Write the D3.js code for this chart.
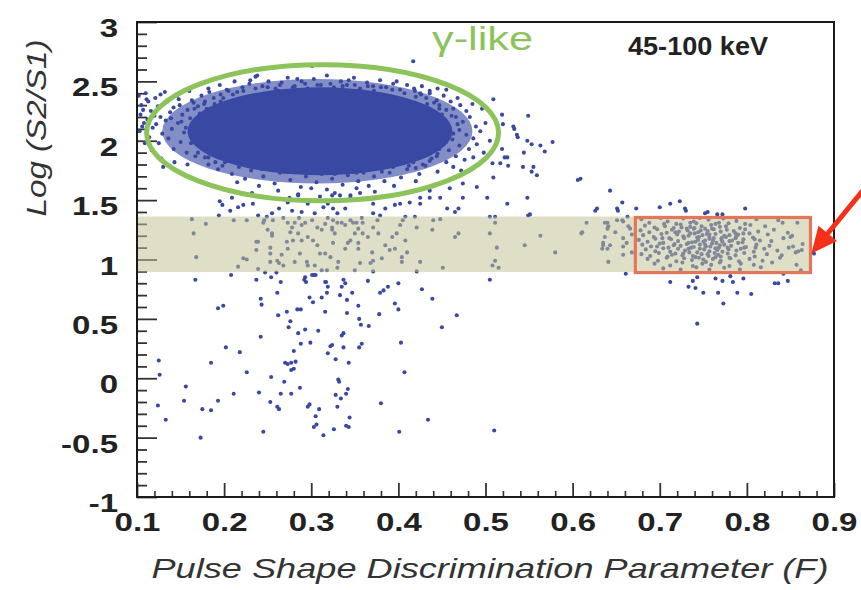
<!DOCTYPE html>
<html>
<head>
<meta charset="utf-8">
<script src="https://cdn.jsdelivr.net/npm/d3@7"></script>
<style>
  body { margin: 0; background: #fff; }
  svg { display: block; }
  text { font-family: "Liberation Sans", Arial, sans-serif; }
</style>
</head>
<body>
<div id="chart"></div>
<script>
// ---------------------------------------------- data -------------------------------------------------
const xTicks = [0.1, 0.2, 0.3, 0.4, 0.5, 0.6, 0.7, 0.8, 0.9];
const xTickLabels = ["0.1", "0.2", "0.3", "0.4", "0.5", "0.6", "0.7", "0.8", "0.9"];
const yTicks = [-1, -0.5, 0, 0.5, 1, 1.5, 2, 2.5, 3];
const yTickLabels = ["-1", "-0.5", "0", "0.5", "1", "1.5", "2", "2.5", "3"];

// dense gamma core : [centre F, centre log, half width, half height]
const gammaCore = [0.31, 2.08, 0.152, 0.37];
// fainter shell around the core, same layout
const gammaShell = [0.307, 2.08, 0.178, 0.44];

// speckled edge of the gamma population
const gammaHalo = [
  [.182,2.44],[.195,2.47],[.203,2.43],[.212,2.50],[.221,2.45],[.229,2.48],[.236,2.54],[.244,2.46],[.251,2.50],[.259,2.44],
  [.266,2.49],[.273,2.53],[.281,2.46],[.289,2.50],[.296,2.44],[.303,2.52],[.311,2.47],[.318,2.55],[.326,2.45],[.334,2.50],
  [.341,2.47],[.349,2.53],[.356,2.44],[.364,2.49],[.371,2.46],[.379,2.51],[.386,2.45],[.394,2.48],[.402,2.43],[.410,2.47],
  [.418,2.44],[.427,2.46],[.436,2.42],[.445,2.44],[.238,2.55],[.301,2.63],[.417,2.67],[.262,2.42],[.315,2.43],[.372,2.42],
  [.215,2.41],[.425,2.40],
  [.102,2.38],[.105,2.30],[.104,2.22],[.108,2.15],[.103,2.08],[.110,2.40],[.113,2.33],[.116,2.25],[.112,2.18],[.118,2.11],
  [.114,2.03],[.121,2.36],[.124,2.29],[.127,2.20],[.122,2.14],[.129,2.06],[.125,1.98],[.132,2.41],[.135,2.33],[.138,2.24],
  [.133,2.17],[.140,2.10],[.136,2.02],[.142,1.93],[.146,2.38],[.149,2.30],[.152,2.22],[.147,2.15],[.154,2.07],[.150,1.99],
  [.157,1.90],[.160,2.42],[.163,2.34],[.166,2.27],[.161,2.19],[.168,2.12],[.164,2.04],[.171,1.96],[.167,1.87],[.174,2.38],
  [.177,2.31],[.172,2.23],[.179,2.01],[.175,1.93],[.182,1.86],[.117,1.92],[.128,1.85],[.143,1.82],[.158,1.80],[.109,1.98],
  [.130,1.78],
  [.452,2.38],[.460,2.33],[.468,2.36],[.463,2.27],[.471,2.30],[.478,2.25],[.466,2.20],[.474,2.16],[.482,2.20],[.489,2.12],
  [.470,2.09],[.478,2.05],[.486,2.02],[.494,2.08],[.462,2.01],[.470,1.96],[.481,1.93],[.490,1.97],[.498,1.90],[.458,1.92],
  [.466,1.87],[.476,1.84],[.486,1.86],[.455,1.82],[.463,1.78],[.472,1.75],[.505,2.00],[.500,2.15],[.496,2.27],[.485,2.31],
  [.455,2.43],[.447,2.30],[.450,2.22],[.456,2.12],[.448,2.05],[.452,1.97],[.445,1.89],
  [.182,1.80],[.193,1.76],[.201,1.82],[.209,1.72],[.217,1.78],[.224,1.68],[.231,1.75],[.238,1.81],[.245,1.70],[.252,1.77],
  [.258,1.64],[.264,1.73],[.270,1.79],[.276,1.67],[.282,1.74],[.288,1.61],[.294,1.70],[.300,1.77],[.306,1.65],[.312,1.72],
  [.318,1.59],[.324,1.68],[.330,1.75],[.336,1.63],[.342,1.71],[.348,1.78],[.354,1.66],[.360,1.73],[.366,1.62],[.372,1.70],
  [.378,1.77],[.384,1.66],[.390,1.73],[.396,1.80],[.403,1.69],[.410,1.76],[.417,1.82],[.424,1.72],[.431,1.79],[.438,1.85],
  [.445,1.74],[.262,1.58],[.285,1.55],[.300,1.60],[.327,1.56],[.352,1.60],[.373,1.57],[.240,1.62],[.215,1.65],[.395,1.62],
  [.420,1.66],[.232,1.56],[.310,1.53],[.275,1.52],[.345,1.52],
  [.190,1.92],[.205,1.88],[.220,1.85],[.235,1.86],[.250,1.83],[.265,1.85],[.280,1.82],[.295,1.84],[.310,1.81],[.325,1.83],
  [.340,1.80],[.355,1.84],[.370,1.82],[.385,1.86],[.400,1.84],[.415,1.88],[.430,1.91],[.440,1.96],[.200,1.97],[.185,2.02],
  [.212,1.93],[.425,1.95],[.210,1.90],
  [.188,2.36],[.196,2.39],[.178,2.33],[.170,2.29],[.183,2.41],[.205,2.42],[.432,2.36],[.426,2.39],[.441,2.32],[.447,2.27],
  [.419,2.42],[.436,2.40],[.190,1.82],[.198,1.79],[.178,1.86],[.170,1.90],[.206,1.84],[.428,1.80],[.436,1.83],[.444,1.87],
  [.420,1.77],[.412,1.79],
  [.165,2.32],[.158,2.26],[.151,2.16],[.156,2.11],[.162,1.98],[.170,2.05],[.176,2.17],[.183,2.25],[.190,2.28],[.196,2.33],
  [.186,1.95],[.194,1.88],[.203,1.85],[.218,1.81],[.228,1.79],[.243,1.76],[.257,1.78],[.268,1.74],[.284,1.78],[.297,1.73],
  [.312,1.76],[.327,1.72],[.339,1.76],[.352,1.73],[.366,1.77],[.381,1.74],[.394,1.78],[.407,1.82],[.421,1.85],[.433,1.88],
  [.447,1.93],[.455,1.99],[.463,2.06],[.468,2.14],[.461,2.21],[.455,2.26],[.444,2.34],[.433,2.31],[.420,2.37],[.407,2.40],
  [.393,2.43],[.380,2.45],[.365,2.46],[.350,2.47],[.336,2.46],[.322,2.48],[.307,2.47],[.293,2.48],[.279,2.45],[.264,2.47],
  [.250,2.45],[.236,2.44],[.222,2.42],[.210,2.39],[.199,2.36],[.189,2.31],[.180,2.27],[.173,2.20],[.168,2.16],[.230,2.51],
  [.284,2.52],[.343,2.51],[.398,2.50],[.142,2.28],[.148,2.35],[.139,2.19],[.127,2.39],[.120,2.21],[.107,2.26],[.111,2.35],
  [.106,2.12]
];

// isolated events outside the two populations
const scatterPts = [
  [.125,.15],[.126,.03],[.124,-.23],[.133,-.35],[.156,-.07],[.154,-.19],[.173,-.50],[.175,-.26],[.185,-.27],[.185,.13],
  [.193,-.19],[.202,.26],[.211,-.13],[.218,.22],[.226,.05],[.240,-.12],[.245,-.45],[.253,-.20],[.254,.01],[.261,-.24],
  [.263,-.26],[.265,-.13],[.269,-.03],[.270,.13],[.273,.12],[.277,.07],[.280,.08],[.277,.13],[.282,.14],[.277,-.13],
  [.280,.23],[.287,-.08],[.288,.29],[.296,-.24],[.298,-.22],[.299,.30],[.303,-.41],[.306,-.39],[.305,-.32],[.309,-.26],
  [.314,-.48],[.319,.21],[.322,.27],[.326,-.43],[.328,-.14],[.328,.16],[.330,-.24],[.331,-.01],[.332,-.03],[.334,-.17],
  [.337,.26],[.340,-.13],[.340,-.40],[.343,-.41],[.342,-.09],[.343,.13],[.344,-.33],[.355,.26],[.358,.29],[.380,-.21],
  [.401,-.45],[.403,.30],[.407,.05],[.434,-.35],[.510,-.44],
  [.193,.59],[.199,.61],[.167,.83],[.208,.87],[.242,.67],[.243,.62],[.242,.35],[.237,.83],[.254,.85],[.261,.72],
  [.265,.81],[.262,.53],[.272,.56],[.276,.48],[.274,.43],[.285,.38],[.284,.58],[.288,.58],[.293,.41],[.308,.40],
  [.298,.68],[.302,.64],[.293,.85],[.292,.83],[.316,.81],[.319,.77],[.318,.72],[.312,.68],[.316,.56],[.301,.87],
  [.303,.87],[.305,.87],[.294,.81],[.317,.81],
  [.337,.83],[.339,.80],[.335,.77],[.365,.82],[.388,.77],[.383,.74],[.379,.72],[.400,.80],[.427,.75],[.439,.67],
  [.333,.70],[.341,.66],[.347,.72],[.354,.61],[.396,.63],[.400,.58],[.341,.55],[.378,.54],[.355,.50],[.357,.45],
  [.366,.44],[.467,.53],[.450,.43],[.337,.38],[.335,.36],[.324,.28],[.505,.83],
  // in the band, left part
  [.163,1.34],[.179,1.30],[.165,1.22],[.168,1.02],[.216,.94],[.211,1.33],[.226,1.33],[.222,1.01],[.226,1.00],[.237,1.08],
  [.239,1.15],[.239,.92],[.246,1.33],[.247,.89],[.250,1.25],[.253,1.10],[.253,1.05],[.255,1.20],[.256,1.33],[.261,.99],
  [.263,.97],[.260,.89],
  [.268,1.35],[.273,1.31],[.278,1.27],[.276,1.23],[.281,1.31],[.286,1.35],[.289,1.29],[.293,1.31],[.285,1.22],[.279,1.16],
  [.272,1.15],[.289,1.16],[.296,1.19],[.302,1.16],[.307,1.12],[.312,1.25],[.316,1.30],[.319,1.35],[.324,1.27],[.310,1.05],
  [.316,1.05],[.322,1.02],[.325,1.14],[.301,1.33],[.307,1.27],[.296,.95],[.304,.95],[.312,.91],[.318,.91],[.287,1.05],
  [.295,.98],[.281,.98],[.273,1.09],[.266,1.04],[.268,.95],[.253,.98],[.237,1.15],[.245,1.31],[.255,1.22],
  [.325,1.33],[.330,1.31],[.335,1.31],[.324,1.25],[.327,1.22],[.339,1.29],[.345,1.33],[.348,1.31],[.352,1.31],[.358,1.35],
  [.359,1.31],[.354,1.26],[.350,1.22],[.345,1.16],[.339,1.09],[.342,1.14],[.354,1.14],[.354,1.09],[.359,1.22],[.365,1.19],
  [.371,1.27],[.376,1.33],[.377,1.22],[.370,1.06],[.371,.99],[.381,1.01],[.385,1.12],[.393,1.19],[.390,1.08],[.398,1.22],
  [.396,1.09],[.402,1.29],[.405,1.33],[.408,1.16],[.410,1.06],[.404,1.02],[.404,.98],[.408,1.36],[.419,1.36],[.421,1.27],
  [.425,.98],[.421,.90],[.371,.90],[.350,.91],[.330,.93],[.331,.98],[.356,.97],[.368,.97],[.439,1.25],[.440,1.33],
  [.448,1.34],[.451,.93],[.465,1.19],[.469,1.22],[.505,1.36],[.511,1.36],[.511,1.31],[.505,1.22],[.513,1.10],[.511,.99],
  [.508,.95],[.515,.93],[.545,1.12],[.563,1.20],[.580,1.06],[.611,1.23],[.616,1.31],[.610,1.22],[.640,1.31],[.641,1.28],
  [.651,1.33],[.649,1.23],[.658,1.32],[.663,1.36],[.664,1.28],[.668,1.21],[.637,1.31],[.640,1.26],[.657,1.33],[.637,1.19],
  [.635,1.14],[.643,1.12],[.634,1.09],[.658,1.18],[.662,1.14],[.658,1.11],[.666,1.26],[.668,1.06],[.641,.98],[.658,1.04],
  [.635,1.12],[.640,1.09],
  // between blob and band
  [.195,1.49],[.198,1.46],[.207,1.41],[.216,1.44],[.222,1.46],[.233,1.47],[.194,1.37],[.209,1.52],[.239,1.37],[.249,1.36],
  [.255,1.39],[.263,1.43],[.273,1.48],[.285,1.54],[.296,1.47],[.304,1.39],[.314,1.44],[.319,1.47],[.325,1.43],[.278,1.41],
  [.289,1.40],[.324,1.54],[.333,1.54],[.345,1.54],[.356,1.56],[.371,1.47],[.385,1.43],[.396,1.46],[.402,1.47],[.413,1.48],
  [.425,1.47],[.436,1.52],[.456,1.43],[.465,1.40],[.469,1.43],[.474,1.52],[.502,1.52],[.525,1.47],[.549,1.37],[.330,1.39],
  [.339,1.43],[.371,1.39],[.379,1.37],[.425,1.52],[.436,1.58],[.448,1.52],[.459,1.60],[.474,1.64],[.490,1.61],
  // right of the blob
  [.509,2.35],[.519,2.22],[.520,2.14],[.532,2.12],[.533,2.10],[.536,2.05],[.537,2.03],[.549,2.21],[.548,2.00],[.553,1.97],
  [.563,1.96],[.568,1.91],[.577,1.99],[.544,1.90],[.525,1.86],[.519,1.93],[.517,1.81],[.508,1.81],[.555,1.78],[.553,1.74],
  [.559,1.71],[.509,1.69],[.606,1.67],[.609,1.68],[.548,1.52],[.551,1.38],[.643,1.58],[.657,1.48],[.651,1.43],[.652,1.41],
  [.626,1.41],[.628,1.43],[.673,1.43],[.700,1.44],[.712,1.47],[.522,1.86],[.526,1.79],[.543,1.78],
  // around the neutron box
  [.723,1.49],[.729,1.43],[.730,1.41],[.752,1.39],[.755,1.40],[.766,1.38],[.772,1.38],[.798,1.43],[.877,1.05],
  [.661,.88],[.712,.81],[.733,.77],[.738,.82],[.741,.76],[.743,.85],[.750,.72],[.764,.84],[.767,.72],[.772,.82],
  [.773,.63],[.781,.86],[.784,.81],[.789,.72],[.796,.84],[.805,.71],[.832,.80],[.836,.80],[.842,.88],[.847,.82],
  [.743,.46],[.841,1.31],[.850,1.19],[.853,1.11],[.859,1.07],[.863,1.08]
];

// nuclear-recoil-like events inside the orange box
const boxPts = [
  [.679,1.34],[.688,1.31],[.701,1.35],[.709,1.32],[.719,1.30],[.727,1.345],[.739,1.32],[.746,1.35],[.756,1.335],[.764,1.30],
  [.773,1.345],[.788,1.325],[.798,1.30],[.811,1.34],[.836,1.33],[.858,1.31],
  [.683,1.285],[.694,1.27],[.705,1.30],[.716,1.265],[.724,1.295],[.735,1.275],[.742,1.305],[.752,1.26],[.759,1.29],[.769,1.275],
  [.779,1.305],[.792,1.265],[.804,1.29],[.821,1.28],
  [.678,1.245],[.688,1.23],[.697,1.255],[.708,1.225],[.714,1.25],[.722,1.235],[.731,1.26],[.740,1.22],[.747,1.245],[.754,1.215],
  [.762,1.255],[.770,1.235],[.777,1.25],[.787,1.22],[.798,1.255],[.813,1.235],[.831,1.25],[.847,1.225],
  [.681,1.205],[.693,1.19],[.702,1.215],[.711,1.18],[.720,1.21],[.727,1.195],[.735,1.22],[.743,1.185],[.749,1.205],[.757,1.19],
  [.764,1.215],[.771,1.18],[.780,1.205],[.788,1.195],[.796,1.22],[.807,1.185],[.824,1.21],[.852,1.20],
  [.676,1.165],[.686,1.15],[.695,1.175],[.704,1.14],[.713,1.17],[.721,1.155],[.728,1.18],[.737,1.145],[.744,1.165],[.750,1.15],
  [.757,1.175],[.765,1.14],[.771,1.165],[.780,1.155],[.787,1.18],[.795,1.145],[.809,1.17],[.828,1.155],[.842,1.18],
  [.680,1.125],[.690,1.11],[.700,1.135],[.710,1.10],[.717,1.13],[.724,1.115],[.733,1.14],[.739,1.105],[.746,1.125],[.753,1.11],
  [.760,1.135],[.768,1.10],[.774,1.125],[.782,1.115],[.790,1.14],[.799,1.105],[.811,1.125],[.826,1.115],[.864,1.13],
  [.684,1.085],[.695,1.07],[.704,1.095],[.712,1.065],[.721,1.09],[.729,1.075],[.736,1.10],[.743,1.06],[.751,1.085],[.757,1.07],
  [.764,1.095],[.772,1.065],[.779,1.085],[.788,1.075],[.797,1.10],[.808,1.065],[.820,1.09],[.835,1.075],[.848,1.10],
  [.679,1.045],[.689,1.03],[.699,1.055],[.709,1.025],[.718,1.05],[.726,1.035],[.734,1.06],[.741,1.02],[.748,1.045],[.756,1.03],
  [.763,1.055],[.770,1.025],[.778,1.05],[.787,1.035],[.797,1.055],[.809,1.025],[.823,1.045],[.840,1.035],[.856,1.06],
  [.686,1.005],[.698,.99],[.708,1.015],[.719,.985],[.728,1.01],[.737,.995],[.745,1.015],[.753,.98],[.761,1.005],[.770,.99],
  [.780,1.015],[.791,.985],[.803,1.005],[.818,.99],[.838,1.015],
  [.694,.965],[.712,.95],[.726,.975],[.738,.945],[.749,.965],[.759,.955],[.769,.975],[.780,.945],[.793,.965],[.808,.955],
  [.829,.975],[.857,.955],
  [.704,.925],[.724,.915],[.742,.935],[.757,.915],[.774,.93],[.792,.915],[.816,.935],[.862,.91],
  [.732,1.245],[.745,1.19],[.761,1.16],[.733,1.09],[.752,1.125],[.766,1.08],[.740,1.265],[.755,1.045],[.776,1.19],[.716,1.12],
  [.725,1.27],[.733,1.20],[.741,1.15],[.748,1.28],[.755,1.24],[.762,1.18],[.769,1.12],[.776,1.28],[.783,1.16],[.790,1.21],
  [.727,1.05],[.738,1.03],[.750,1.00],[.758,1.11],[.767,1.04],[.774,1.20],[.781,1.01],[.793,1.09],[.718,1.23],[.714,1.04],
  [.703,1.18],[.697,1.11],[.706,1.28],[.744,1.23],[.752,1.16],[.760,1.26],[.772,1.15],[.785,1.24],[.796,1.17],[.803,1.22],
  [.810,1.10],[.815,1.16],[.731,1.13],[.739,1.26],[.764,1.02],[.746,1.09],[.757,1.21],[.768,1.31],[.735,1.31],[.778,1.10]
];

// overlays (data coordinates)
const bandY = [0.895, 1.362];
const bandX = [0.1, 0.873];
const boxX = [0.672, 0.873];
const boxY = [0.89, 1.354];
const gammaRing = [0.313, 2.067, 0.202, 0.573];
const arrowFrom = [0.933, 1.58];
const arrowTo = [0.874, 1.05];

// ---------------------------------------------- svg -------------------------------------------------
const W = 861, H = 590;
const svg = d3.select("#chart").append("svg").attr("width", W).attr("height", H);

const x = d3.scaleLinear().domain([0.1, 0.9]).range([137, 834]);
const y = d3.scaleLinear().domain([-1, 3]).range([497, 22]);

const blue = "#3949a3";

function stretch(sel, k) {
  sel.each(function () {
    const w = this.getComputedTextLength();
    d3.select(this).attr("textLength", w * k).attr("lengthAdjust", "spacingAndGlyphs");
  });
}

//------------------------------------------- axes / ticks ---------------------------------------------
const yMinor = d3.range(-0.9, 3, 0.1).filter(v => Math.abs(v * 2 - Math.round(v * 2)) > 0.01);
const xMinor = d3.range(0.12, 0.9, 0.02).filter(v => Math.abs(v * 10 - Math.round(v * 10)) > 0.01);

svg.append("g").attr("transform", "translate(" + x(0.1) + ",0)")
  .call(d3.axisLeft(y).tickValues(yMinor).tickSize(-10).tickFormat(""))
  .call(g => g.select(".domain").remove())
  .selectAll("line").attr("stroke", "#333").attr("stroke-width", 1.8);

const gy = svg.append("g").attr("transform", "translate(" + x(0.1) + ",0)")
  .call(d3.axisLeft(y).tickValues(yTicks).tickSize(-20).tickSizeOuter(0).tickPadding(19)
    .tickFormat((d, i) => yTickLabels[i]))
  .call(g => g.select(".domain").remove());
gy.selectAll("line").attr("stroke", "#333").attr("stroke-width", 1.8);
gy.selectAll("text").attr("font-size", 26).attr("font-weight", "bold").attr("fill", "#222").attr("dy", "0.56em");

svg.append("g").attr("transform", "translate(0," + y(-1) + ")")
  .call(d3.axisBottom(x).tickValues(xMinor).tickSize(-6).tickFormat(""))
  .call(g => g.select(".domain").remove())
  .selectAll("line").attr("stroke", "#333").attr("stroke-width", 1.6);

const gx = svg.append("g").attr("transform", "translate(0," + y(-1) + ")")
  .call(d3.axisBottom(x).tickValues(xTicks).tickSize(-14).tickSizeOuter(0).tickPadding(16)
    .tickFormat((d, i) => xTickLabels[i]))
  .call(g => g.select(".domain").remove());
gx.selectAll("line").attr("stroke", "#333").attr("stroke-width", 1.8);
gx.selectAll("text").attr("font-size", 26).attr("font-weight", "bold").attr("fill", "#222");

stretch(gy.selectAll("text"), 1.27);
stretch(gx.selectAll("text"), 1.27);

//------------------------------------------- points ---------------------------------------------------
function blob(p, op) {
  svg.append("ellipse")
    .attr("cx", x(p[0])).attr("cy", y(p[1]))
    .attr("rx", x(p[0] + p[2]) - x(p[0]))
    .attr("ry", y(p[1]) - y(p[1] + p[3]))
    .attr("fill", blue).attr("fill-opacity", op);
}
blob(gammaShell, 0.62);
blob(gammaCore, 1);

svg.append("g").selectAll("circle")
  .data(gammaHalo.concat(scatterPts, boxPts))
  .enter().append("circle")
  .attr("cx", d => x(d[0]))
  .attr("cy", d => y(d[1]))
  .attr("r", 2.05)
  .attr("fill", blue);

//------------------------------------------- overlays -------------------------------------------------
svg.append("rect")
  .attr("x", x(bandX[0])).attr("width", x(bandX[1]) - x(bandX[0]))
  .attr("y", y(bandY[1])).attr("height", y(bandY[0]) - y(bandY[1]))
  .attr("fill", "rgb(193,195,148)").attr("fill-opacity", 0.53);

svg.append("rect")
  .attr("x", x(boxX[0])).attr("width", x(boxX[1]) - x(boxX[0]))
  .attr("y", y(boxY[1])).attr("height", y(boxY[0]) - y(boxY[1]))
  .attr("fill", "none").attr("stroke", "#e4775a").attr("stroke-width", 3.2);

svg.append("ellipse")
  .attr("cx", x(gammaRing[0])).attr("cy", y(gammaRing[1]))
  .attr("rx", x(gammaRing[0] + gammaRing[2]) - x(gammaRing[0]))
  .attr("ry", y(gammaRing[1]) - y(gammaRing[1] + gammaRing[3]))
  .attr("fill", "none").attr("stroke", "#8cc35a").attr("stroke-width", 5);

// frame
svg.append("rect")
  .attr("x", x(0.1)).attr("y", y(3))
  .attr("width", x(0.9) - x(0.1)).attr("height", y(-1) - y(3))
  .attr("fill", "none").attr("stroke", "#1a1a1a").attr("stroke-width", 2);

// arrow
const ax0 = x(arrowFrom[0]), ay0 = y(arrowFrom[1]), ax1 = x(arrowTo[0]), ay1 = y(arrowTo[1]);
const len = Math.hypot(ax1 - ax0, ay1 - ay0), ux = (ax1 - ax0) / len, uy = (ay1 - ay0) / len;
const bx = ax1 - ux * 26, by = ay1 - uy * 26;
svg.append("line").attr("x1", ax0).attr("y1", ay0).attr("x2", bx + ux * 4).attr("y2", by + uy * 4)
  .attr("stroke", "#f5301a").attr("stroke-width", 5);
svg.append("path")
  .attr("d", "M" + ax1 + "," + ay1 + "L" + (bx - uy * 12) + "," + (by + ux * 12) + "L" + (bx + uy * 12) + "," + (by - ux * 12) + "Z")
  .attr("fill", "#f5301a");

//------------------------------------------- texts ----------------------------------------------------
svg.append("text").attr("x", 432).attr("y", 50)
  .attr("font-size", 34).attr("fill", "#8cc35a")
  .attr("textLength", 101).attr("lengthAdjust", "spacingAndGlyphs")
  .text("γ-like");

svg.append("text").attr("x", 628).attr("y", 55)
  .attr("font-size", 25).attr("font-weight", "bold").attr("fill", "#222")
  .attr("textLength", 140).attr("lengthAdjust", "spacingAndGlyphs")
  .text("45-100 keV");

svg.append("text").attr("x", 490).attr("y", 578)
  .attr("text-anchor", "middle").attr("font-size", 28).attr("font-style", "italic").attr("fill", "#333")
  .attr("textLength", 677).attr("lengthAdjust", "spacingAndGlyphs")
  .text("Pulse Shape Discrimination Parameter (F)");

svg.append("text").attr("transform", "translate(46,128) rotate(-90)")
  .attr("text-anchor", "middle").attr("font-size", 28).attr("font-style", "italic").attr("fill", "#333")
  .attr("textLength", 177).attr("lengthAdjust", "spacingAndGlyphs")
  .text("Log (S2/S1)");
</script>
</body>
</html>
